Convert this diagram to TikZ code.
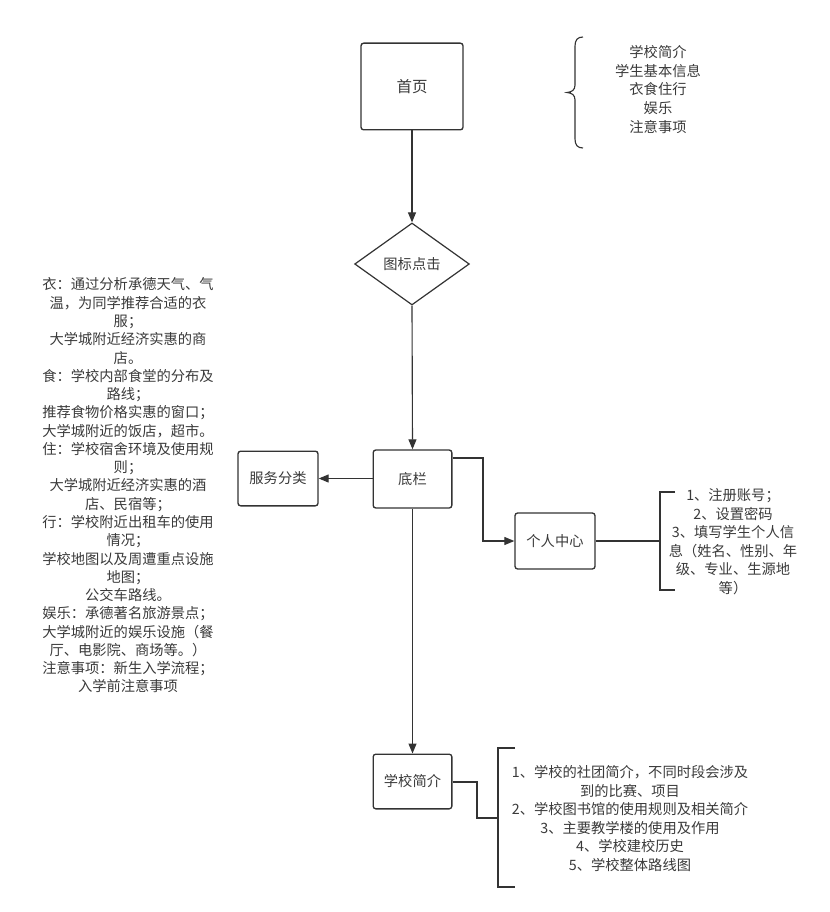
\documentclass[tikz,border=0pt]{standalone}
\usepackage{fontspec}
\setmainfont{Noto Sans CJK SC}
\usetikzlibrary{shapes.geometric,arrows.meta}
\definecolor{ink}{HTML}{333333}
\definecolor{txt}{HTML}{3A3A3A}
\tikzset{
  box/.style={draw=ink, line width=1pt, rounded corners=2pt, fill=white, text=txt, inner sep=0pt, font=\fontsize{10.7}{13.7}\selectfont},
  dia/.style={draw=ink, line width=0.9pt, diamond, inner sep=0pt, text=txt, font=\fontsize{10.7}{13.7}\selectfont},
  con/.style={draw=ink, line width=0.85pt},
  arr/.style={con, -{Triangle[length=7.5pt,width=6pt]}},
  note/.style={text=txt, align=center, inner sep=0pt, font=\fontsize{10.7}{13.9}\selectfont},
}
\begin{document}
\begin{tikzpicture}[x=0.75pt,y=-0.75pt]
\useasboundingbox (0,0) rectangle (830,912);
% nodes
\node[box, minimum width=76.5pt, minimum height=65pt, font=\fontsize{11.6}{14}\selectfont] (home) at (412,86.5) {首页};
\node[dia, minimum width=86pt, minimum height=61.5pt] (click) at (412,264) {图标点击};
\node[box, minimum width=59pt, minimum height=43.5pt] (bar) at (412.5,479) {底栏};
\node[box, minimum width=60pt, minimum height=41pt] (serv) at (278,478.5) {服务分类};
\node[box, minimum width=60pt, minimum height=42pt] (pers) at (555,541) {个人中心};
\node[box, minimum width=59pt, minimum height=41pt] (intro) at (412.5,781.5) {学校简介};
% notes
\node[note] (hometext) at (658,89.5) {学校简介\\学生基本信息\\衣食住行\\娱乐\\注意事项};
\node[note, font=\fontsize{10.7}{13.7}\selectfont] (lefttext) at (128,485.5) {衣：通过分析承德天气、气\\
温，为同学推荐合适的衣\\
服；\\
大学城附近经济实惠的商\\
店。\\
食：学校内部食堂的分布及\\
路线；\\
推荐食物价格实惠的窗口；\\
大学城附近的饭店，超市。\\
住：学校宿舍环境及使用规\\
则；\\
大学城附近经济实惠的酒\\
店、民宿等；\\
行：学校附近出租车的使用\\
情况；\\
学校地图以及周遭重点设施\\
地图；\\
公交车路线。\\
娱乐：承德著名旅游景点；\\
大学城附近的娱乐设施（餐\\
厅、电影院、商场等。）\\
注意事项：新生入学流程；\\
入学前注意事项};
\node[note] (perstext) at (733,541.5) {1、注册账号；\\2、设置密码\\3、填写学生个人信\\息（姓名、性别、年\\级、专业、生源地\\等）};
\node[note] (introtext) at (630,818.5) {1、学校的社团简介，不同时段会涉及\\到的比赛、项目\\2、学校图书馆的使用规则及相关简介\\3、主要教学楼的使用及作用\\4、学校建校历史\\5、学校整体路线图};
% brace
\draw[con] (583,37) .. controls (577.5,37) and (575,40) .. (575,46) -- (575,85)
  .. controls (575,90) and (572,92) .. (567,92.5)
  .. controls (572,93) and (575,95) .. (575,100) -- (575,139)
  .. controls (575,145) and (577.5,148) .. (583,148);
% brackets
\coordinate (pbr) at (660,541);
\draw[con] (675,492) -- (660,492) -- (660,590) -- (675,590);
\coordinate (ibr) at (498,818);
\draw[con] (515,748) -- (498,748) -- (498,887) -- (515,887);
% connectors
\draw[arr] (home.south) -- (click.north);
\draw[arr] (click.south) -- (bar.north);
\draw[arr] (bar.west |- serv.east) -- (serv.east);
\coordinate (j1) at (483,458);
\draw[arr] (bar.east |- j1) -- (j1) |- (pers.west);
\draw[con] (pers.east) -- (pbr);
\draw[arr] (bar.south) -- (intro.north);
\coordinate (j2) at (477,782);
\draw[con] (intro.east |- j2) -- (j2) |- (ibr);
\end{tikzpicture}
\end{document}
